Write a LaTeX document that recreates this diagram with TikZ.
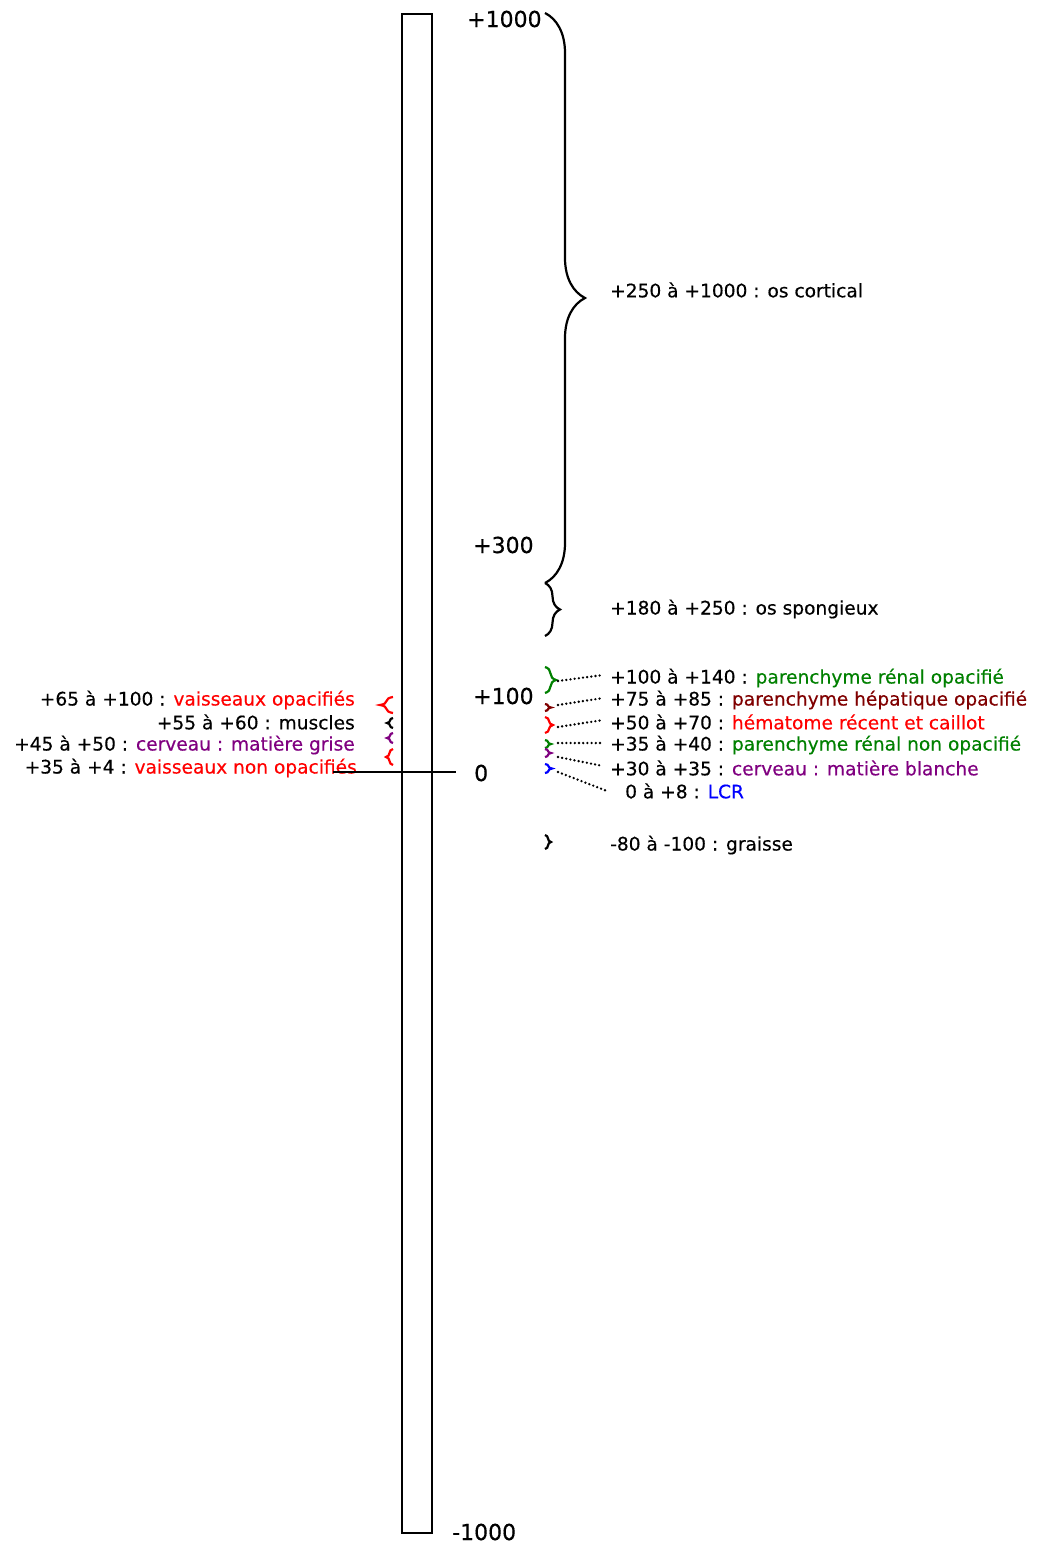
\documentclass[tikz,border=0pt]{standalone}
\usepackage{fontspec}
\setmainfont{DejaVu Sans}
\newfontfamily\lblfont{DejaVu Sans}[FakeBold=0.4]
\newfontfamily\sclfont{DejaVu Sans}[FakeBold=0.5]
\usetikzlibrary{decorations.pathreplacing}
\definecolor{dgreen}{RGB}{0,128,0}
\definecolor{dred}{RGB}{128,0,0}
\definecolor{purp}{RGB}{128,0,128}
\definecolor{lred}{RGB}{255,0,0}
\definecolor{lblue}{RGB}{0,0,255}
\begin{document}
\begin{tikzpicture}[x=1pt,y=-1pt,
  lbl/.style={font=\lblfont\fontsize{18.6}{20}\selectfont, inner sep=0pt},
  scl/.style={font=\sclfont\fontsize{22}{24}\selectfont, inner sep=0pt},
  brc/.style={decorate, decoration={brace, amplitude=#1}, line width=2.2pt},
  dotline/.style={line width=2.6pt, dash pattern=on 0pt off 4.2pt, line cap=round}]
\useasboundingbox (0,0) rectangle (1037,1547);
% scale bar
\node[draw, line width=2.2pt, minimum width=30pt, minimum height=1519pt, inner sep=0pt, anchor=north west] (bar) at (401,13) {};
\coordinate (z0) at (333,772);
\coordinate (z1) at (456,772);
% scale labels
\node[scl, anchor=west] (s1000) at (467,19) {+1000};
\node[scl, anchor=west] (s300) at (473,545) {+300};
\node[scl, anchor=west] (s100) at (473,696) {+100};
\node[scl, anchor=west] (s0) at (474,773) {0};
\node[scl, anchor=west] (sm1000) at (452,1532) {-1000};
% right braces
\draw[brc=40] (545,13) -- (545,583);
\draw[brc=15] (545,583) -- (545,636);
\draw[brc=11, dgreen] (545,667) -- (545,693);
\draw[brc=6, dred] (545,704) -- (545,711);
\draw[brc=8, lred] (545,717) -- (545,733);
\draw[brc=6, dgreen] (545,740) -- (545,748);
\draw[brc=6, purp] (545,749) -- (545,757);
\draw[brc=7, lblue] (545,764) -- (545,773);
\draw[brc=6] (545,835) -- (545,849);
% left braces
\draw[brc=13, lred] (393,713) -- (393,697);
\draw[brc=6] (393,728) -- (393,718);
\draw[brc=6, purp] (393,743) -- (393,733);
\draw[brc=7, lred] (393,765) -- (393,749);
% right labels
\node[lbl, anchor=west] (cort) at (610,290) {+250 à +1000 : os cortical};
\node[lbl, anchor=west] (spong) at (610,609) {+180 à +250 : os spongieux};
\node[lbl, anchor=west] (r1) at (610,678) {+100 à +140 : \textcolor{dgreen}{parenchyme rénal opacifié}};
\node[lbl, anchor=west] (r2) at (610,700) {+75 à +85 : \textcolor{dred}{parenchyme hépatique opacifié}};
\node[lbl, anchor=west] (r3) at (610,722) {+50 à +70 : \textcolor{lred}{hématome récent et caillot}};
\node[lbl, anchor=west] (r4) at (610,745) {+35 à +40 : \textcolor{dgreen}{parenchyme rénal non opacifié}};
\node[lbl, anchor=west] (r5) at (610,768) {+30 à +35 : \textcolor{purp}{cerveau : matière blanche}};
\node[lbl, anchor=west] (r6) at (625,791) {0 à +8 : \textcolor{lblue}{LCR}};
\node[lbl, anchor=west] (gr) at (610,845) {-80 à -100 : graisse};
% left labels
\node[lbl, anchor=east] (l1) at (355,700) {+65 à +100 : \textcolor{lred}{vaisseaux opacifiés}};
\node[lbl, anchor=east] (l2) at (355,722) {+55 à +60 : muscles};
\node[lbl, anchor=east] (l3) at (355,745) {+45 à +50 : \textcolor{purp}{cerveau : matière grise}};
\node[lbl, anchor=east] (l4) at (357,768) {+35 à +4 : \textcolor{lred}{vaisseaux non opacifiés}};
\draw[line width=2.2pt] (z0) -- (z1);
% dotted connectors
\coordinate (t1) at (558,681); \coordinate (e1) at (603,675);
\coordinate (t2) at (558,705); \coordinate (e2) at (603,698);
\coordinate (t3) at (558,727); \coordinate (e3) at (603,720);
\coordinate (t4) at (558,743); \coordinate (e4) at (603,743);
\coordinate (t5) at (558,757); \coordinate (e5) at (603,766);
\coordinate (t6) at (558,772); \coordinate (e6) at (607,791);
\draw[dotline] (t1) -- (e1);
\draw[dotline] (t2) -- (e2);
\draw[dotline] (t3) -- (e3);
\draw[dotline] (t4) -- (e4);
\draw[dotline] (t5) -- (e5);
\draw[dotline] (t6) -- (e6);
\end{tikzpicture}
\end{document}
